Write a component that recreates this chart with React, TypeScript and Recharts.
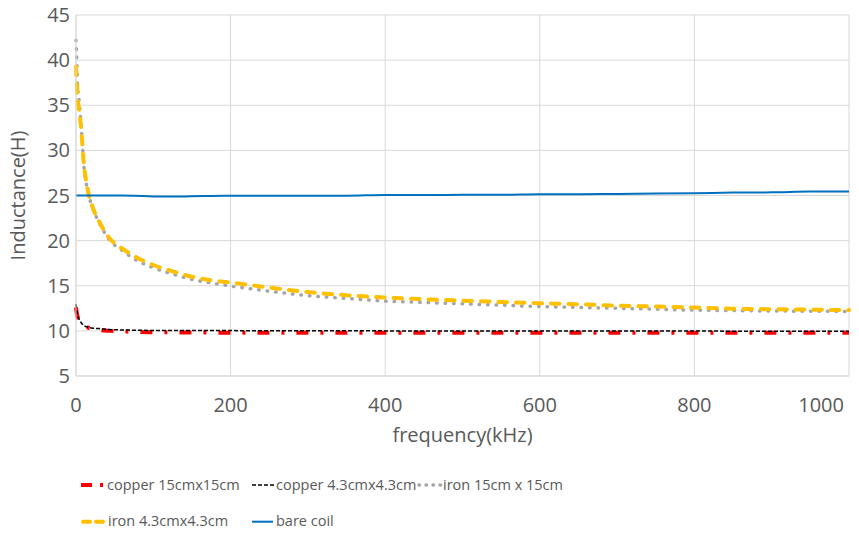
import React from "react";
import { LineChart, Line, XAxis, YAxis, CartesianGrid, Legend, Label } from "recharts";

const frequencies = [0, 1, 2, 4, 6, 8, 10, 12, 16, 22, 30, 43, 60, 75, 100, 125, 150, 175, 200, 250, 300, 350, 400, 450, 500, 550, 600, 650, 700, 750, 800, 850, 900, 950, 1000];

const copper15 = [12.6, 12.0, 11.6, 11.2, 10.9, 10.7, 10.55, 10.45, 10.35, 10.25, 10.1, 10.0, 9.95, 9.9, 9.85, 9.83, 9.82, 9.81, 9.8, 9.8, 9.79, 9.79, 9.78, 9.78, 9.78, 9.78, 9.78, 9.78, 9.78, 9.78, 9.78, 9.78, 9.78, 9.78, 9.78];
const copper43 = [12.95, 12.3, 11.8, 11.3, 11.0, 10.75, 10.6, 10.5, 10.4, 10.3, 10.25, 10.15, 10.1, 10.08, 10.05, 10.05, 10.04, 10.04, 10.03, 10.02, 10.02, 10.01, 10.0, 10.0, 9.99, 9.99, 9.98, 9.98, 9.98, 9.98, 9.98, 9.97, 9.97, 9.97, 9.97];
const iron15 = [42.2, 40.2, 37.2, 35.5, 33.6, 31.0, 28.4, 27.0, 25.2, 23.5, 22.0, 20.1, 18.9, 18.0, 17.0, 16.3, 15.7, 15.3, 14.97, 14.4, 13.9, 13.6, 13.3, 13.15, 13.0, 12.85, 12.7, 12.6, 12.5, 12.4, 12.3, 12.25, 12.2, 12.18, 12.15];
const iron43 = [39.3, 37.5, 36.0, 34.5, 33.0, 31.0, 28.6, 27.2, 25.3, 23.6, 22.1, 20.3, 19.1, 18.3, 17.3, 16.6, 16.0, 15.6, 15.35, 14.8, 14.3, 13.95, 13.7, 13.5, 13.35, 13.2, 13.06, 12.95, 12.8, 12.7, 12.58, 12.45, 12.4, 12.35, 12.3];
const bareCoil = [25.0, 25.0, 25.0, 25.0, 25.0, 25.0, 25.0, 25.0, 25.0, 25.0, 25.0, 25.0, 25.0, 24.98, 24.9, 24.88, 24.92, 24.95, 24.97, 24.97, 24.98, 24.98, 25.05, 25.05, 25.07, 25.08, 25.15, 25.15, 25.18, 25.22, 25.25, 25.33, 25.35, 25.45, 25.45];

const xTicks = [0, 200, 400, 600, 800, 1000];
const yTicks = [5, 10, 15, 20, 25, 30, 35, 40, 45];

const seriesNames = {
  copper15: "copper 15cmx15cm",
  copper43: "copper 4.3cmx4.3cm",
  iron15: "iron 15cm x 15cm",
  iron43: "iron 4.3cmx4.3cm",
  bare: "bare coil",
};

const data = frequencies.map((f, i) => ({
  f,
  copper15: copper15[i],
  copper43: copper43[i],
  iron15: iron15[i],
  iron43: iron43[i],
  bare: bareCoil[i],
}));

const styles = {
  copper15: { stroke: "#FF0000", strokeWidth: 4, dash: "12 12 3 12", cap: "butt" },
  copper43: { stroke: "#000000", strokeWidth: 1.5, dash: "4 2", cap: "butt" },
  iron15: { stroke: "#A5A5A5", strokeWidth: 3.5, dash: "0.5 8", cap: "round" },
  iron43: { stroke: "#FFC000", strokeWidth: 4, dash: "8.5 9", cap: "round" },
  bare: { stroke: "#0070C0", strokeWidth: 2, dash: undefined, cap: "butt" },
};

const FONT = "'Open Sans', sans-serif";
const TEXT = "#595959";

const legendItems = [
  { key: "copper15", x1: 81, x2: 104, dash: "11 8 3 30", tx: 107, row: 0 },
  { key: "copper43", x1: 252, x2: 275, dash: "4 2", tx: 276, row: 0 },
  { key: "iron15", x1: 419, x2: 441, dash: "0.5 6.5", tx: 443, row: 0 },
  { key: "iron43", x1: 83, x2: 103, dash: "7 6", tx: 108, row: 1 },
  { key: "bare", x1: 252, x2: 273, dash: undefined, tx: 276, row: 1 },
];

const CustomLegend = () => (
  <svg width={859} height={74} style={{ display: "block" }}>
    {legendItems.map((it) => {
      const s = styles[it.key];
      const iy = it.row === 0 ? 25 : 61.7;
      const ty = it.row === 0 ? 29.5 : 65.5;
      return (
        <g key={it.key}>
          <line x1={it.x1} x2={it.x2} y1={iy} y2={iy} stroke={s.stroke} strokeWidth={s.strokeWidth} strokeDasharray={it.dash} strokeLinecap={s.cap} />
          <text x={it.tx} y={ty} fill={TEXT} fontSize={14.5} fontFamily={FONT}>{seriesNames[it.key]}</text>
        </g>
      );
    })}
  </svg>
);

const XTick = (props) => {
  const { x, y, payload } = props;
  const last = payload.value === xTicks[xTicks.length - 1];
  return (
    <text x={last ? x + 1 : x} y={y} dy="0.71em" textAnchor={last ? "end" : "middle"} fill={TEXT} fontSize={20} fontFamily={FONT}>
      {payload.value}
    </text>
  );
};

export default function App() {
  return (
    <div style={{ position: "absolute", left: 0, top: 0, width: 859, height: 534, background: "#fff" }}>
      <LineChart width={859} height={534} data={data} margin={{ top: 15, right: 10, bottom: 0, left: 0 }}>
        <CartesianGrid stroke="#D9D9D9" strokeWidth={1} />
        <XAxis
          dataKey="f"
          type="number"
          domain={[0, 1000]}
          ticks={xTicks}
          height={84}
          axisLine={{ stroke: "#D9D9D9" }}
          tickLine={false}
          tickSize={0}
          tickMargin={22}
          tick={<XTick />}
        >
          <Label
            content={({ viewBox }) => {
              const vb = viewBox;
              return (
                <text x={vb.x + vb.width / 2} y={442} textAnchor="middle" fill={TEXT} fontSize={20} fontFamily={FONT}>
                  frequency(kHz)
                </text>
              );
            }}
          />
        </XAxis>
        <YAxis
          type="number"
          domain={[5, 45]}
          ticks={yTicks}
          width={76}
          axisLine={{ stroke: "#D9D9D9" }}
          tickLine={false}
          tickSize={0}
          tickMargin={6}
          tick={{ fill: TEXT, fontSize: 20, fontFamily: FONT }}
        >
          <Label
            content={({ viewBox }) => {
              const vb = viewBox;
              const cx = vb.x + 17;
              const cy = vb.y + vb.height / 2;
              return (
                <text x={cx} y={cy} transform={`rotate(-90 ${cx} ${cy})`} textAnchor="middle" dominantBaseline="central" fill={TEXT} fontSize={20} fontFamily={FONT}>
                  Inductance(H)
                </text>
              );
            }}
          />
        </YAxis>
        <Legend verticalAlign="bottom" wrapperStyle={{ left: 0, bottom: 0, width: 859, height: 74 }} content={CustomLegend} />
        {["copper15", "copper43", "iron15", "iron43", "bare"].map((k) => (
          <Line
            key={k}
            dataKey={k}
            name={seriesNames[k]}
            type="monotone"
            stroke={styles[k].stroke}
            strokeWidth={styles[k].strokeWidth}
            strokeDasharray={styles[k].dash}
            strokeLinecap={styles[k].cap}
            dot={false}
            activeDot={false}
            isAnimationActive={false}
          />
        ))}
      </LineChart>
    </div>
  );
}
